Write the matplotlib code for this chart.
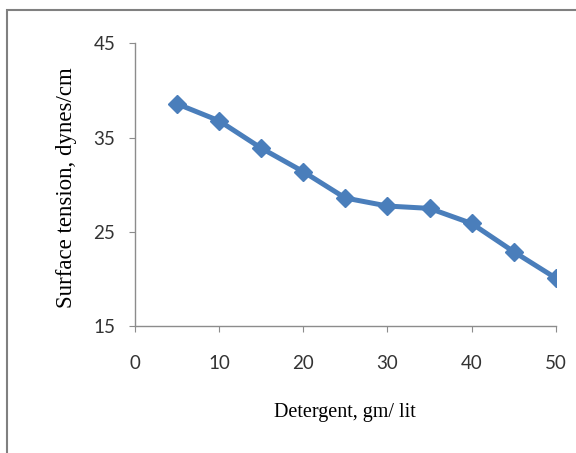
import numpy as np
import matplotlib
matplotlib.use("Agg")
import matplotlib.pyplot as plt
from matplotlib.patches import Rectangle

detergent = [5, 10, 15, 20, 25, 30, 35, 40, 45, 50]
surface_tension = [38.6, 36.8, 33.9, 31.4, 28.6, 27.75, 27.5, 25.9, 22.9, 20.1]
x_ticks = [0, 10, 20, 30, 40, 50]
y_ticks = [15, 25, 35, 45]

plt.rcParams['font.family'] = ['Liberation Serif', 'DejaVu Serif']

fig = plt.figure(figsize=(5.76, 4.53), dpi=100)
ax = fig.add_axes([0.234, 0.280, 0.731, 0.624])

ax.plot(detergent, surface_tension, color='#4a7ebb', lw=3.6, marker='D',
        markersize=9.5, markerfacecolor='#4a7ebb', markeredgecolor='#4a7ebb',
        solid_joinstyle='round', zorder=3)

ax.set_xlim(0, 50)
ax.set_ylim(15, 45)
ax.set_xticks(x_ticks)
ax.set_yticks(y_ticks)

for side in ['top', 'right']:
    ax.spines[side].set_visible(False)
for side in ['left', 'bottom']:
    ax.spines[side].set_color('#8c8c8c')
    ax.spines[side].set_linewidth(1.0)

ax.tick_params(axis='x', direction='out', length=4, color='#8c8c8c',
               labelsize=13.5, pad=17, labelcolor='#333333')
ax.tick_params(axis='y', direction='out', length=4, color='#8c8c8c',
               labelsize=13.5, pad=10, labelcolor='#333333')
for lbl in ax.get_xticklabels() + ax.get_yticklabels():
    lbl.set_family(['Lato', 'DejaVu Sans'])

ax.set_xlabel('Detergent, gm/ lit', fontsize=14.5, va='center')
ax.xaxis.set_label_coords(0.5, -0.304)
ax.set_ylabel('Surface tension, dynes/cm', fontsize=16.5, va='center')
ax.yaxis.set_label_coords(-0.162, 0.49)

# outer frame (cut off at right/bottom in the reference)
fig.patches.append(Rectangle((7 / 576, -0.05), 1.2, 1 - 10 / 453 + 0.05,
                             transform=fig.transFigure, fill=False,
                             edgecolor='#808080', linewidth=1.5))

fig.savefig('out.png', dpi=100)
